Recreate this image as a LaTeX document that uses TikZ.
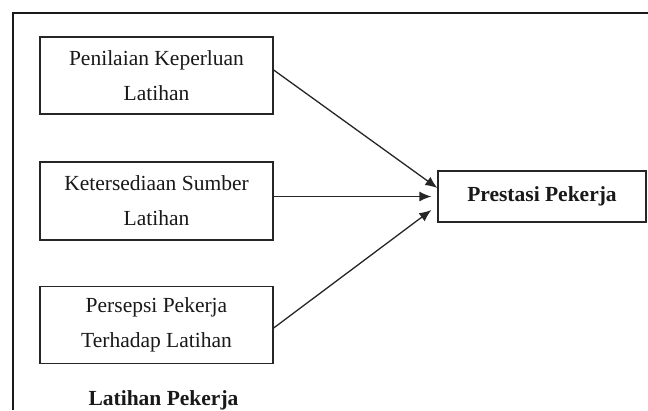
\documentclass[tikz,border=0pt]{standalone}
\usepackage{fontspec}
\setmainfont{Liberation Serif}
\usetikzlibrary{arrows.meta}
\begin{document}
\begin{tikzpicture}[x=1pt,y=-1pt,
  ln/.style={draw=black!85,line width=1.3pt},
  boxnode/.style={ln,rectangle,minimum width=233pt,minimum height=77pt,inner sep=0pt,align=center,
    font=\fontsize{21.5}{35}\selectfont,text=black!90},
  conn/.style={draw=black!85,line width=1.3pt,-{Latex[length=12pt,width=10pt]}},
  bold/.style={font=\fontsize{21.5}{26}\selectfont\bfseries,text=black!90}]
\useasboundingbox[fill=white] (0,0) rectangle (648,410);
\coordinate (fbl) at (13,410);
\coordinate (ftl) at (13,13);
\coordinate (ftr) at (648,13);
\draw[draw=black!90,line width=1.5pt] (fbl) -- (ftl) -- (ftr);

\node[boxnode] (box1) at (156.5,75.5) {Penilaian Keperluan\\Latihan};
\node[boxnode,minimum height=78pt] (box2) at (156.5,201) {Ketersediaan Sumber\\Latihan};
\node[boxnode] (box3) at (156.5,325) {Persepsi Pekerja\\Terhadap Latihan};
\node[ln,rectangle,minimum width=208pt,minimum height=51pt,inner sep=0pt,bold] (prest) at (542,196.5) {Prestasi Pekerja};
\node[bold,anchor=base] (lbl) at (163.5,405) {Latihan Pekerja};

\coordinate (s1) at ([yshift=5.5pt]box1.east);
\coordinate (s2) at ([yshift=4.5pt]box2.east);
\coordinate (s3) at ([yshift=-3pt]box3.east);
\coordinate (t1) at ([yshift=8.5pt]prest.west);
\coordinate (t2) at ([xshift=-6pt]prest.west);
\coordinate (t3) at ([xshift=-6pt,yshift=-13.5pt]prest.west);
\draw[conn] (s1) -- (t1);
\draw[conn] (s2) -- (t2);
\draw[conn] (s3) -- (t3);
\end{tikzpicture}
\end{document}
